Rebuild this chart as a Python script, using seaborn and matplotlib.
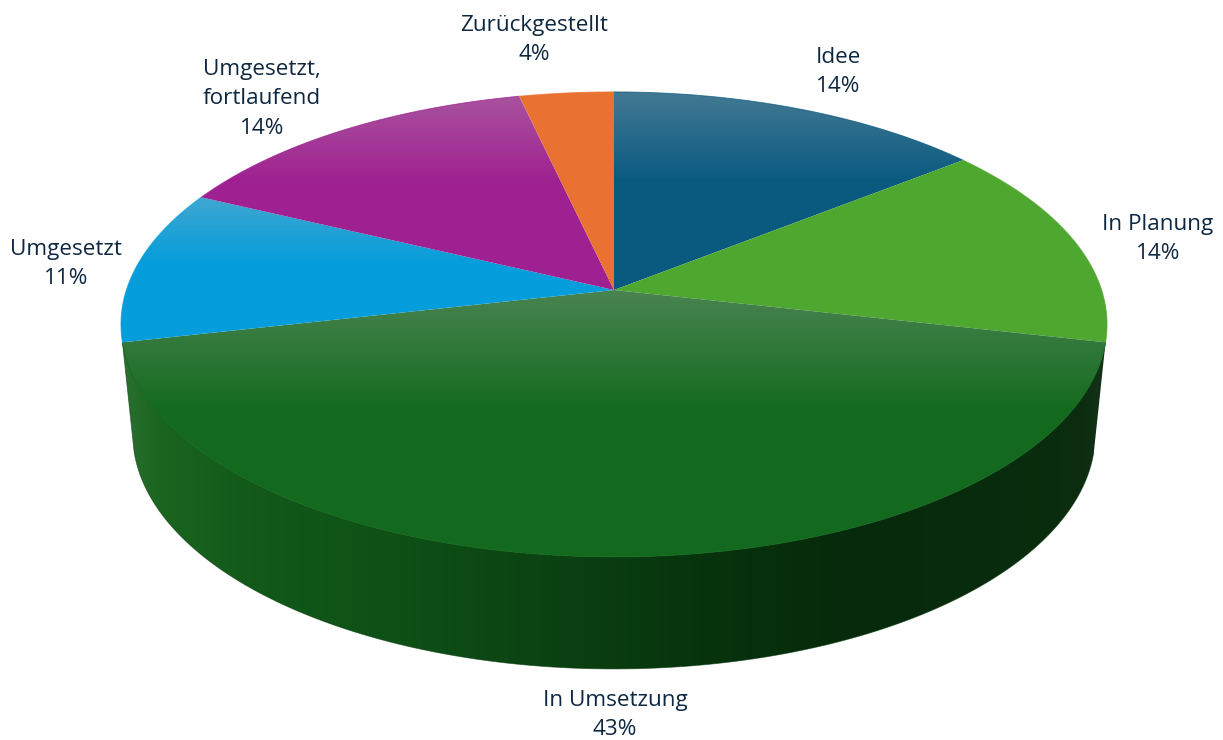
import numpy as np
import matplotlib
matplotlib.use('Agg')
import matplotlib.pyplot as plt
from matplotlib.colors import to_rgb
from matplotlib.patches import Polygon
import seaborn as sns

# chart data (project counts, shown as percent)
labels = ['Idee', 'In Planung', 'In Umsetzung', 'Umgesetzt', 'Umgesetzt,\nfortlaufend', 'Zurückgestellt']
counts = [4, 4, 12, 3, 4, 1]
colors = ['#0A5A80', '#4EA72E', '#136A1E', '#059DDB', '#9F2090', '#E97132']
# how strong the grey sheen is at the top edge of each slice
shine = [0.32, 0.0, 0.32, 0.32, 0.32, 0.0]
# label centres in pixels
label_x = [838, 1158, 615, 66, 262, 534]
label_y = [72, 239, 715, 264, 99, 40]

sns.set_theme(style='white')
plt.rcParams['font.family'] = ['Open Sans', 'DejaVu Sans']
palette = sns.color_palette(colors)

W, H = 1223, 740
fig = plt.figure(figsize=(W / 100, H / 100), dpi=100)
ax = fig.add_axes([0, 0, 1, 1])

# perspective disc, top face and bottom face of the pie
K = 0.148
CX = 614
TOP = dict(a=487.6, b=227.4, cy=290)
BOTTOM = dict(a=476, b=230, cy=399)
SHEEN = 188 / 255


def project(deg, r, a, b, cy):
    # deg runs clockwise from 12 o'clock
    t = np.radians(deg)
    u, v = r * np.sin(t), r * np.cos(t)
    w = 1 + K * v
    return CX + a * u / w, cy - b * v / w


def arc(start, end, face):
    t = np.linspace(start, end, 240)
    x, y = project(t, 1, **face)
    return np.column_stack([x, y])


total = sum(counts)
edges = np.cumsum([0] + counts) / total * 360

# wall below the big slice, only this one is visible
wall_start, wall_end = edges[2], edges[3]
wall = np.vstack([arc(wall_start, wall_end, TOP), arc(wall_end, wall_start, BOTTOM)])
wall_x = [0, 123, 160, 250, 400, 550, 700, 850, 1000, 1080, 1105, W]
wall_c = ['#2A702F', '#2A702F', '#1A6520', '#12591A', '#0E5016', '#0B4212', '#07340D',
          '#062A0B', '#082C0D', '#0C2C0F', '#14331A', '#14331A']
wall_rgb = np.array([to_rgb(c) for c in wall_c])
xs = np.arange(W)
wall_img = np.stack([np.interp(xs, wall_x, wall_rgb[:, i]) for i in range(3)], axis=-1)[None, :, :]
im = ax.imshow(wall_img, extent=(0, W, H, 0), aspect='auto', zorder=1)
patch = Polygon(wall, closed=True, transform=ax.transData, fc='none', ec='none')
ax.add_patch(patch)
im.set_clip_path(patch)
ax.plot(wall[:, 0], wall[:, 1], color='#0A3A10', lw=0.6, alpha=0.6, zorder=1)

# top faces with a vertical gradient per slice
for i in range(len(counts)):
    outer = arc(edges[i], edges[i + 1], TOP)
    poly = np.vstack([[CX, TOP['cy']], outer])
    y0, y1 = poly[:, 1].min(), poly[:, 1].max()
    rows = np.arange(H) + 0.5
    frac = np.clip((rows - y0) / (y1 - y0), 0, 1)
    base = np.array(palette[i])
    sheen = shine[i] * np.clip(1 - frac / 0.45, 0, 1)
    img = base[None, :] + (SHEEN - base[None, :]) * sheen[:, None]
    im = ax.imshow(img[:, None, :], extent=(0, W, H, 0), aspect='auto', zorder=2 + i * 0.01)
    patch = Polygon(poly, closed=True, transform=ax.transData, fc='none', ec='none')
    ax.add_patch(patch)
    im.set_clip_path(patch)
    # soften the clipped rim
    ax.plot(outer[:, 0], outer[:, 1], color=colors[i], lw=0.7, alpha=0.7, zorder=2 + i * 0.01)

for i, name in enumerate(labels):
    pct = round(100 * counts[i] / total)
    ax.text(label_x[i], label_y[i], f'{name}\n{pct}%', ha='center', va='center',
            fontsize=16.2, color='#0E2841', linespacing=1.5, zorder=5)

ax.set_xlim(0, W)
ax.set_ylim(H, 0)
ax.axis('off')
fig.savefig('out.png', dpi=100, facecolor='white')
